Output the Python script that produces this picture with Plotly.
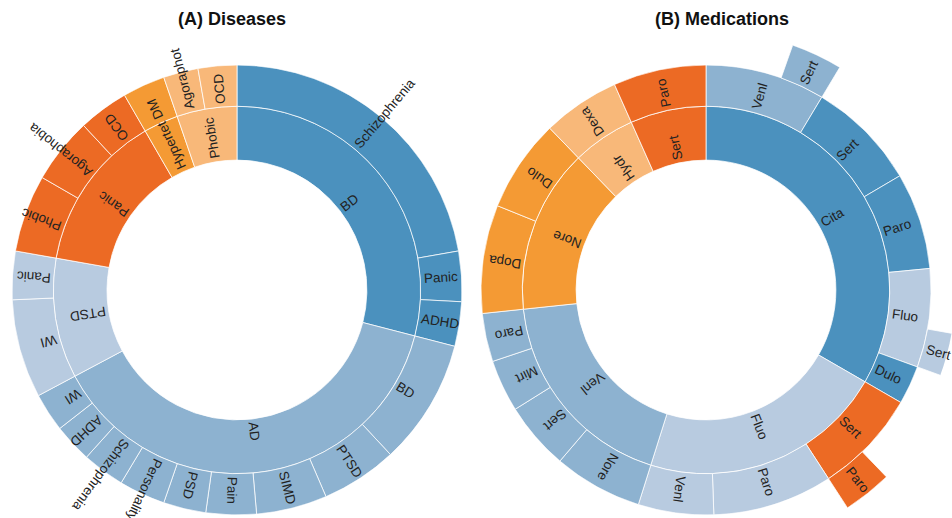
import math
import plotly.graph_objects as go

# ---------------------------------------------------------------- data
# (A) Diseases: inner ring = index disease, outer ring = comorbid disease
DIS_INNER_LABELS = ["BD", "AD", "PTSD", "Panic", "Hypertet DM", "Phobic"]
DIS_INNER_VALUES = [104.5, 137.5, 38, 50, 11, 19]

DIS_OUTER_PARENTS = ["BD", "BD", "BD",
                     "AD", "AD", "AD", "AD", "AD", "AD", "AD", "AD", "AD",
                     "PTSD", "PTSD",
                     "Panic", "Panic", "Panic",
                     "Hypertet DM",
                     "Phobic", "Phobic"]
DIS_OUTER_LABELS = ["Schizophrenia", "Panic", "ADHD",
                    "BD", "PTSD", "SIMD", "Pain", "PSD", "Personality", "Schizophrenia", "ADHD", "WI",
                    "WI", "Panic",
                    "Phobic", "Agoraphobia", "OCD",
                    "",
                    "Agoraphot", "OCD"]
DIS_OUTER_VALUES = [80, 13, 11.5,
                    32.5, 19.7, 18.3, 13, 11, 12, 11, 10, 10,
                    25.5, 12.5,
                    20, 17, 13,
                    11,
                    9, 10]

# (B) Medications: inner ring = first drug, outer rings = follow-up drugs
MED_INNER_LABELS = ["Cita", "Fluo", "Venl", "Nore", "Hydr", "Sert"]
MED_INNER_VALUES = [120, 77.5, 66.5, 52, 20, 24]

MED_OUTER_PARENTS = ["Cita", "Cita", "Cita", "Cita", "Cita",
                     "Fluo", "Fluo", "Fluo",
                     "Venl", "Venl", "Venl", "Venl",
                     "Nore", "Nore",
                     "Hydr",
                     "Sert"]
MED_OUTER_LABELS = ["Venl", "Sert", "Paro", "Fluo", "Dulo",
                    "Sert", "Paro", "Venl",
                    "Nore", "Sert", "Mirt", "Paro",
                    "Dopa", "Dulo",
                    "Dexa",
                    "Paro"]
MED_OUTER_VALUES = [31, 28.5, 25, 25.5, 10,
                    27, 31, 19.5,
                    23, 17.5, 13.5, 12.5,
                    28, 24,
                    20,
                    24]

# third level: (index of parent in the outer ring, label, value)
MED_THIRD_PARENTS = [0, 3, 5]
MED_THIRD_LABELS = ["Sert", "Sert", "Paro"]
MED_THIRD_VALUES = [11.5, 10, 11]

# ---------------------------------------------------------------- styles
PALETTE = {
    "blue": "#4b91be",
    "mid": "#8db2d0",
    "light": "#b8cbe0",
    "orange": "#ec6a24",
    "amber": "#f49a34",
    "peach": "#f8b879",
}
DIS_INNER_COLORS = ["blue", "mid", "light", "orange", "amber", "peach"]
DIS_OUTER_COLORS = ["blue"] * 3 + ["mid"] * 9 + ["light"] * 2 + ["orange"] * 3 + ["amber"] + ["peach"] * 2
MED_INNER_COLORS = ["blue", "light", "mid", "amber", "peach", "orange"]
MED_OUTER_COLORS = ["mid", "blue", "blue", "light", "blue",
                    "orange", "light", "light",
                    "mid", "mid", "mid", "mid",
                    "amber", "amber",
                    "peach",
                    "orange"]
MED_THIRD_COLORS = ["mid", "light", "orange"]

W, H = 952, 518
RADIUS = 225                     # outer edge of the second ring, px
UNIT = RADIUS / math.sqrt(3)     # ring radii follow sqrt(depth)
CENTERS = [(237, 290), (706, 290)]
FONT = "Arial, Liberation Sans, Helvetica, sans-serif"
LABEL_SIZE = 13.5
LINE = dict(color="rgba(255,255,255,0.75)", width=1)

# Arial advance widths (1/1000 em) for label length estimates
ADV = {'A': 667, 'B': 667, 'C': 722, 'D': 722, 'E': 667, 'F': 611, 'G': 778, 'H': 722,
       'I': 278, 'J': 500, 'K': 667, 'L': 556, 'M': 833, 'N': 722, 'O': 778, 'P': 667,
       'Q': 778, 'R': 722, 'S': 667, 'T': 611, 'U': 722, 'V': 667, 'W': 944, 'X': 667,
       'Y': 667, 'Z': 611, 'a': 556, 'b': 556, 'c': 500, 'd': 556, 'e': 556, 'f': 278,
       'g': 556, 'h': 556, 'i': 222, 'j': 222, 'k': 500, 'l': 222, 'm': 833, 'n': 556,
       'o': 556, 'p': 556, 'q': 556, 'r': 333, 's': 500, 't': 278, 'u': 556, 'v': 500,
       'w': 722, 'x': 500, 'y': 500, 'z': 500, ' ': 278}


def text_width(s, size):
    return sum(ADV.get(ch, 556) for ch in s) / 1000 * size


def inner_spans(values):
    total = sum(values)
    spans, a = [], 0.0
    for v in values:
        d = v / total * 360
        spans.append((a, a + d))
        a += d
    return spans


def child_spans(parents, values, parent_labels, parent_spans, parent_values):
    total = sum(parent_values)
    cursor = {lab: sp[0] for lab, sp in zip(parent_labels, parent_spans)}
    spans = []
    for p, v in zip(parents, values):
        d = v / total * 360
        spans.append((cursor[p], cursor[p] + d))
        cursor[p] += d
    return spans


def ring_trace(spans, depth, colors, labels, subplot):
    base = math.sqrt(depth)
    top = math.sqrt(depth + 1)
    return go.Barpolar(
        theta=[(a + b) / 2 for a, b in spans],
        width=[b - a for a, b in spans],
        base=[base] * len(spans),
        r=[top - base] * len(spans),
        marker=dict(color=[PALETTE[c] for c in colors], line=LINE),
        text=labels, hoverinfo="text", subplot=subplot, showlegend=False,
    )


def ring_labels(spans, depth, labels, center):
    cx, cy = center
    anns = []
    for (a, b), lab in zip(spans, labels):
        if not lab:
            continue
        mid = (a + b) / 2
        rc = UNIT * math.sqrt(depth) + 3.5 + text_width(lab, LABEL_SIZE) / 2
        t = math.radians(mid)
        px = cx + rc * math.sin(t)
        py = cy - rc * math.cos(t)
        ang = mid - 90
        if ang > 180:
            ang -= 360
        anns.append(dict(x=px / W, y=1 - py / H, xref="paper", yref="paper",
                         text=lab, showarrow=False, xanchor="center", yanchor="middle",
                         textangle=ang, font=dict(family=FONT, size=LABEL_SIZE, color="#222")))
    return anns


def polar_layout(center):
    cx, cy = center
    return dict(
        domain=dict(x=[(cx - RADIUS) / W, (cx + RADIUS) / W],
                    y=[(H - cy - RADIUS) / H, (H - cy + RADIUS) / H]),
        bgcolor="white", barmode="overlay",
        radialaxis=dict(range=[0, math.sqrt(3)], visible=False),
        angularaxis=dict(visible=False, rotation=90, direction="clockwise"),
    )


def wedge_layout(span, center, rmax):
    """Polar subplot restricted to one wedge so a third-ring box can reach past the rings."""
    cx, cy = center
    s0, s1 = 90 - span[1] - 0.6, 90 - span[0] + 0.6
    angs = [s0 + (s1 - s0) * i / 60 for i in range(61)]
    xs = [0.0] + [math.cos(math.radians(a)) for a in angs]
    ys = [0.0] + [math.sin(math.radians(a)) for a in angs]
    x0, x1, y0, y1 = min(xs), max(xs), min(ys), max(ys)
    rad = UNIT * rmax
    # keep the wedge inside the page
    if x1 > 0:
        rad = min(rad, (W - cx) / x1)
    if x0 < 0:
        rad = min(rad, cx / -x0)
    if y1 > 0:
        rad = min(rad, cy / y1)
    if y0 < 0:
        rad = min(rad, (H - cy) / -y0)
    yc = H - cy
    return dict(
        domain=dict(x=[(cx + rad * x0) / W, (cx + rad * x1) / W],
                    y=[(yc + rad * y0) / H, (yc + rad * y1) / H]),
        sector=[s0, s1], bgcolor="rgba(0,0,0,0)", barmode="overlay",
        radialaxis=dict(range=[0, rad / UNIT], visible=False),
        angularaxis=dict(visible=False, rotation=90, direction="clockwise"),
    )


fig = go.Figure()
annotations = []
layout_polars = {}

# (A) Diseases
d_in = inner_spans(DIS_INNER_VALUES)
d_out = child_spans(DIS_OUTER_PARENTS, DIS_OUTER_VALUES, DIS_INNER_LABELS, d_in, DIS_INNER_VALUES)
fig.add_trace(ring_trace(d_in, 1, DIS_INNER_COLORS, DIS_INNER_LABELS, "polar"))
fig.add_trace(ring_trace(d_out, 2, DIS_OUTER_COLORS, DIS_OUTER_LABELS, "polar"))
annotations += ring_labels(d_in, 1, DIS_INNER_LABELS, CENTERS[0])
annotations += ring_labels(d_out, 2, DIS_OUTER_LABELS, CENTERS[0])
layout_polars["polar"] = polar_layout(CENTERS[0])

# (B) Medications
m_in = inner_spans(MED_INNER_VALUES)
m_out = child_spans(MED_OUTER_PARENTS, MED_OUTER_VALUES, MED_INNER_LABELS, m_in, MED_INNER_VALUES)
fig.add_trace(ring_trace(m_in, 1, MED_INNER_COLORS, MED_INNER_LABELS, "polar2"))
fig.add_trace(ring_trace(m_out, 2, MED_OUTER_COLORS, MED_OUTER_LABELS, "polar2"))
annotations += ring_labels(m_in, 1, MED_INNER_LABELS, CENTERS[1])
annotations += ring_labels(m_out, 2, MED_OUTER_LABELS, CENTERS[1])
layout_polars["polar2"] = polar_layout(CENTERS[1])

# third ring: each box sits at the end of its parent's arc
m_total = sum(MED_INNER_VALUES)
m_third = []
for p, v in zip(MED_THIRD_PARENTS, MED_THIRD_VALUES):
    end = m_out[p][1]
    m_third.append((end - v / m_total * 360, end))
for i, (span, lab, col) in enumerate(zip(m_third, MED_THIRD_LABELS, MED_THIRD_COLORS)):
    name = f"polar{3 + i}"
    layout_polars[name] = wedge_layout(span, CENTERS[1], 2.0)
    fig.add_trace(ring_trace([span], 3, [col], [lab], name))
annotations += ring_labels(m_third, 3, MED_THIRD_LABELS, CENTERS[1])

# panel titles
for txt, xc in [("(A) Diseases", 231.5), ("(B) Medications", 722)]:
    annotations.append(dict(x=xc / W, y=1 - 19 / H, xref="paper", yref="paper", text=f"<b>{txt}</b>",
                            showarrow=False, xanchor="center", yanchor="middle",
                            font=dict(family=FONT, size=18, color="#111")))

fig.update_layout(
    width=W, height=H, margin=dict(l=0, r=0, t=0, b=0),
    paper_bgcolor="white", plot_bgcolor="white", showlegend=False,
    annotations=annotations, **layout_polars,
)

fig.write_html("out.html")
